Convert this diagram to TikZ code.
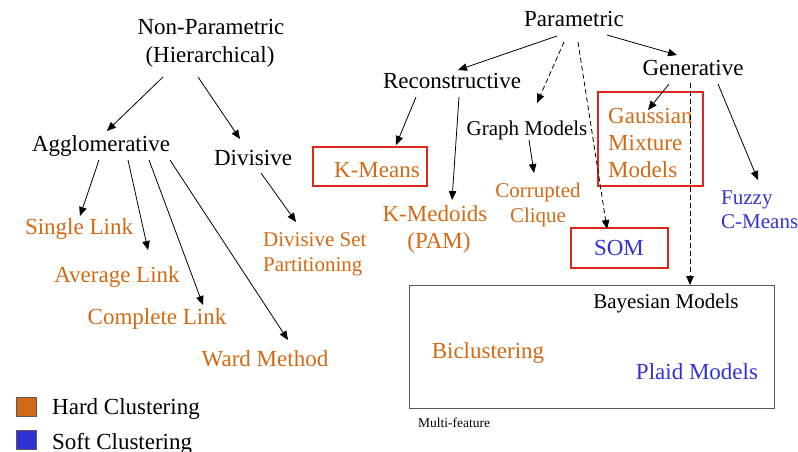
\documentclass[tikz,border=0pt]{standalone}
\usepackage{fontspec}
\setmainfont{Liberation Serif}
\usetikzlibrary{arrows.meta}
\definecolor{hardc}{RGB}{210,105,20}
\definecolor{softc}{RGB}{50,50,210}
\definecolor{boxred}{RGB}{222,40,30}
\definecolor{boxgrey}{RGB}{90,90,90}
\tikzset{
  big/.style={inner sep=0pt, font=\fontsize{23}{27}\selectfont},
  mid/.style={inner sep=0pt, font=\fontsize{21}{25}\selectfont},
  tiny/.style={inner sep=0pt, font=\fontsize{13.5}{16}\selectfont},
  hard/.style={text=hardc},
  soft/.style={text=softc},
  redbox/.style={draw=boxred, line width=2.3pt, inner sep=0pt},
  arr/.style={line width=0.8pt, -{Triangle[length=9pt,width=7.5pt]}},
  darr/.style={arr, dash pattern=on 5pt off 3pt},
}
\begin{document}
\begin{tikzpicture}[x=1pt,y=-1pt]
\useasboundingbox (0,0) rectangle (798,451);
% ---------- non-parametric side
\node[big, anchor=base] (np1) at (211,34) {Non-Parametric};
\node[big, anchor=base] (np2) at (210,62) {(Hierarchical)};
\node[big, anchor=base] (agg) at (101,151) {Agglomerative};
\node[big, anchor=base] (div) at (253,165) {Divisive};
\node[big, hard, anchor=base] (sl) at (79,234) {Single Link};
\node[big, hard, anchor=base] (al) at (117,282) {Average Link};
\node[big, hard, anchor=base] (cl) at (157,324) {Complete Link};
\node[big, hard, anchor=base] (wm) at (265,366) {Ward Method};
\node[mid, hard, anchor=base west] (dsp1) at (263,246) {Divisive Set};
\node[mid, hard, anchor=base west] (dsp2) at (263,271) {Partitioning};
% ---------- parametric side
\node[big, anchor=base] (par) at (574,26) {Parametric};
\node[big, anchor=base] (rec) at (452,88) {Reconstructive};
\node[big, anchor=base] (gen) at (693,75) {Generative};
\node[mid, anchor=base] (graph) at (527,135) {Graph Models};
\node[redbox, minimum width=114pt, minimum height=39pt] (kmbox) at (370,166.5) {};
\node[big, hard, anchor=base] (km) at (377,177) {K-Means};
\node[big, hard, anchor=base] (kmed1) at (435,221) {K-Medoids};
\node[big, hard, anchor=base] (kmed2) at (439,248) {(PAM)};
\node[mid, hard, anchor=base] (cor1) at (538,197) {Corrupted};
\node[mid, hard, anchor=base] (cor2) at (538,222) {Clique};
\node[redbox, minimum width=105pt, minimum height=94pt] (gmmbox) at (650.5,139) {};
\node[big, hard, anchor=base west] (gmm1) at (608,123) {Gaussian};
\node[big, hard, anchor=base west] (gmm2) at (608,150) {Mixture};
\node[big, hard, anchor=base west] (gmm3) at (608,177) {Models};
\node[redbox, minimum width=97pt, minimum height=40pt] (sombox) at (619.5,248) {};
\node[big, soft, anchor=base] (som) at (619,255) {SOM};
\node[mid, soft, anchor=base west] (fz1) at (721,204) {Fuzzy};
\node[mid, soft, anchor=base west] (fz2) at (721,228) {C-Means};
% ---------- multi-feature box
\node[draw=boxgrey, line width=1pt, inner sep=0pt, minimum width=365pt, minimum height=123pt] (bigbox) at (591.5,346.5) {};
\node[mid, anchor=base] (bay) at (666,308) {Bayesian Models};
\node[big, hard, anchor=base] (bic) at (488,358) {Biclustering};
\node[big, soft, anchor=base] (plaid) at (697,379) {Plaid Models};
\node[tiny, anchor=base west] (mf) at (418,427) {Multi-feature};
% ---------- legend
\node[draw=boxgrey, line width=0.6pt, fill=hardc, inner sep=0pt, minimum width=20pt, minimum height=19pt] (lghard) at (26,406.5) {};
\node[draw=boxgrey, line width=0.6pt, fill=softc, inner sep=0pt, minimum width=20pt, minimum height=19pt] (lgsoft) at (26,440) {};
\node[big, anchor=base west] (lht) at (52,414) {Hard Clustering};
\node[big, anchor=base west] (lst) at (52,449) {Soft Clustering};
% ---------- connectors
\draw[arr] ([shift={(-47,15)}]np2.base) -- ([shift={(6,-20)}]agg.base);
\draw[arr] ([shift={(-12,15)}]np2.base) -- ([shift={(-13,-26)}]div.base);
\draw[arr] ([shift={(-2,9)}]agg.base) -- ([shift={(1,-18)}]sl.base);
\draw[arr] ([shift={(27,9)}]agg.base) -- ([shift={(31,-32)}]al.base);
\draw[arr] ([shift={(48,9)}]agg.base) -- ([shift={(46,-19)}]cl.base);
\draw[arr] ([shift={(69,9)}]agg.base) -- ([shift={(23,-26)}]wm.base);
\draw[arr] ([shift={(8,8)}]div.base) -- ([shift={(33,-24)}]dsp1.base west);
\draw[arr] ([shift={(-17,10)}]par.base) -- ([shift={(6,-18)}]rec.base);
\draw[darr] ([shift={(-10,16)}]par.base) -- ([shift={(10,-32)}]graph.base);
\draw[darr] ([shift={(4,16)}]par.base) -- ([shift={(-12.5,-19)}]sombox.center);
\draw[arr] ([shift={(33,9)}]par.base) -- ([shift={(-16,-20)}]gen.base);
\draw[arr] ([shift={(-36,9)}]rec.base) -- ([shift={(26,-21.5)}]kmbox.center);
\draw[arr] ([shift={(7,9)}]rec.base) -- ([shift={(17,-21)}]kmed1.base);
\draw[arr] ([shift={(2,5)}]graph.base) -- ([shift={(-4,-24)}]cor1.base);
\draw[arr] ([shift={(-24,9)}]gen.base) -- ([shift={(-2.5,-29)}]gmmbox.center);
\draw[arr] ([shift={(25,9)}]gen.base) -- ([shift={(37,-24)}]fz1.base west);
\draw[darr] ([shift={(-3,8)}]gen.base) -- ([shift={(98.5,-61.5)}]bigbox.center);
\end{tikzpicture}
\end{document}
